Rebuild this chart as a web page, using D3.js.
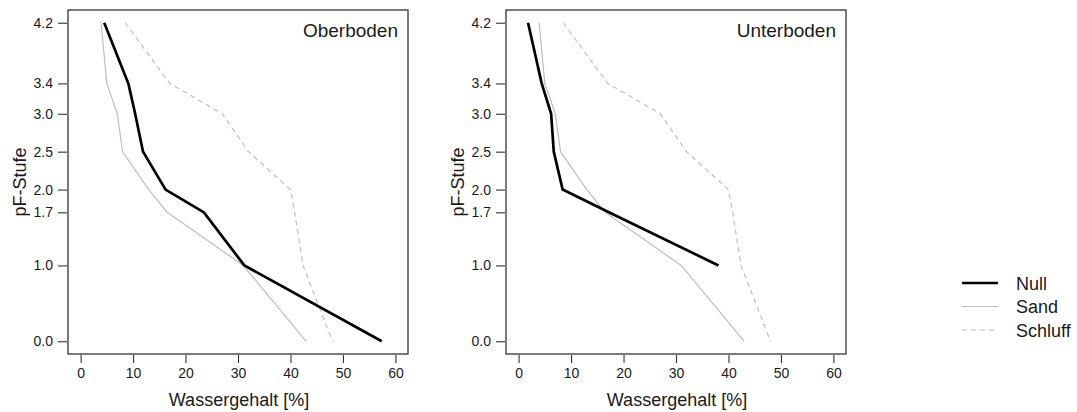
<!DOCTYPE html>
<html>
<head>
<meta charset="utf-8">
<script src="https://cdn.jsdelivr.net/npm/d3@7"></script>
<style>
  body { margin: 0; background: #fff; }
  svg text { font-family: "Liberation Sans", Arial, sans-serif; fill: #1a1a1a; }
</style>
</head>
<body>
<svg></svg>
<script>
var width = 1077;
var height = 412;

// pF-Stufen (y) und Wassergehalt [%] (x)
var pfLevels = [4.2, 3.4, 3.0, 2.5, 2.0, 1.7, 1.0, 0.0];
var nullOber = [4.5, 9.1, 10.4, 11.9, 16.2, 23.5, 31.2, 57.4];
var nullUnter = [1.8, 4.4, 6.2, 6.7, 8.4, 17.2, 38.1, null];
var sand = [3.9, 5.0, 7.0, 8.0, 13.0, 16.5, 31.0, 43.0];
var schluff = [8.5, 17.0, 27.0, 32.0, 40.0, 40.8, 42.4, 48.0];

var xTicks = [0, 10, 20, 30, 40, 50, 60];
var yTicks = [0.0, 1.0, 1.7, 2.0, 2.5, 3.0, 3.4, 4.2];
var panelNames = ['Oberboden', 'Unterboden'];
var legendNames = ['Null', 'Sand', 'Schluff'];

var styles = {
  Null: { stroke: '#000', width: 2.7, dash: null },
  Sand: { stroke: '#bebebe', width: 1.2, dash: null },
  Schluff: { stroke: '#bebebe', width: 1.2, dash: '5,4' }
};

var svg = d3.select('svg')
    .attr('width', width)
    .attr('height', height);

var panels = [
  { name: panelNames[0], left: 68, series: [['Sand', sand], ['Schluff', schluff], ['Null', nullOber]] },
  { name: panelNames[1], left: 506, series: [['Sand', sand], ['Schluff', schluff], ['Null', nullUnter]] }
];

var boxW = 340, plotTop = 10, plotBottom = 354;

panels.forEach(function(p) {
  var x = d3.scaleLinear().domain([-2.4, 62.4]).range([p.left, p.left + boxW]);
  var y = d3.scaleLinear().domain([-0.168, 4.368]).range([plotBottom, plotTop]);

  var g = svg.append('g');

  var line = d3.line()
      .defined(function(d) { return d[0] != null; })
      .x(function(d) { return x(d[0]); })
      .y(function(d) { return y(d[1]); });

  p.series.forEach(function(s) {
    var st = styles[s[0]];
    var pts = s[1].map(function(v, i) { return [v, pfLevels[i]]; });
    g.append('path')
        .attr('d', line(pts))
        .attr('fill', 'none')
        .attr('stroke', st.stroke)
        .attr('stroke-width', st.width)
        .attr('stroke-dasharray', st.dash)
        .attr('stroke-linejoin', 'round');
  });

  // box
  g.append('rect')
      .attr('x', p.left).attr('y', plotTop)
      .attr('width', boxW).attr('height', plotBottom - plotTop)
      .attr('fill', 'none')
      .attr('stroke', '#222')
      .attr('stroke-width', 1.2);

  var xAxis = g.append('g')
      .attr('transform', 'translate(0,' + (plotBottom + 1) + ')')
      .call(d3.axisBottom(x).tickValues(xTicks).tickSize(8).tickPadding(5).tickFormat(d3.format('d')));
  var yAxis = g.append('g')
      .attr('transform', 'translate(' + (p.left - 1) + ',0)')
      .call(d3.axisLeft(y).tickValues(yTicks).tickSize(9).tickPadding(5).tickFormat(d3.format('.1f')));

  [xAxis, yAxis].forEach(function(a) {
    a.attr('font-size', null).attr('font-family', null);
    a.select('.domain').remove();
    a.selectAll('line').attr('stroke', '#333').attr('stroke-width', 1.1);
    a.selectAll('text')
        .attr('fill', '#1a1a1a')
        .style('font-size', '14px');
  });

  g.append('text')
      .attr('x', p.left + 171)
      .attr('y', 406)
      .attr('text-anchor', 'middle')
      .style('font-size', '18px')
      .text('Wassergehalt [%]');

  g.append('text')
      .attr('transform', 'translate(' + (p.left - 42) + ',' + ((plotTop + plotBottom) / 2) + ') rotate(-90)')
      .attr('text-anchor', 'middle')
      .style('font-size', '18px')
      .text('pF-Stufe');

  g.append('text')
      .attr('x', p.left + boxW - 10)
      .attr('y', 37)
      .attr('text-anchor', 'end')
      .style('font-size', '19px')
      .text(p.name);
});

// legend
var legend = svg.append('g');
legendNames.forEach(function(name, i) {
  var st = styles[name];
  var ly = 283 + i * 23.5;
  legend.append('line')
      .attr('x1', 962).attr('x2', 998)
      .attr('y1', ly).attr('y2', ly)
      .attr('stroke', st.stroke)
      .attr('stroke-width', st.width)
      .attr('stroke-dasharray', st.dash);
  legend.append('text')
      .attr('x', 1016)
      .attr('y', ly + 6.5)
      .style('font-size', '18px')
      .text(name);
});
</script>
</body>
</html>
